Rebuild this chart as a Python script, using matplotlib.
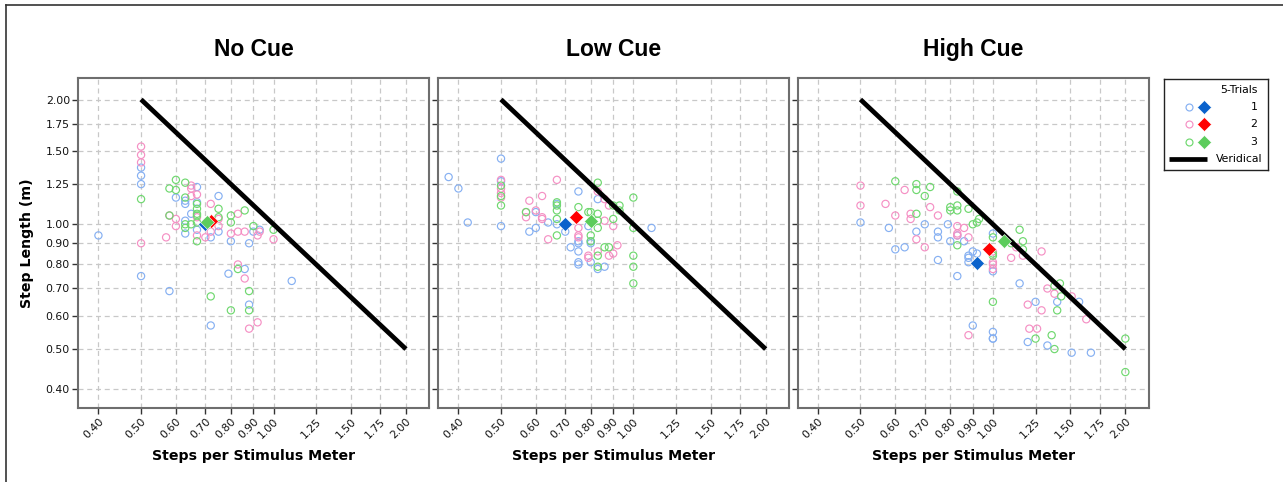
import matplotlib
matplotlib.use("Agg")
import matplotlib.pyplot as plt
from matplotlib.ticker import FixedLocator, FixedFormatter, NullLocator
from matplotlib.lines import Line2D

# ---------------- data ----------------
panel_titles = ["No Cue", "Low Cue", "High Cue"]
trial_labels = ["1", "2", "3"]
tick_values = [0.40, 0.50, 0.60, 0.70, 0.80, 0.90, 1.00, 1.25, 1.50, 1.75, 2.00]
tick_labels = ["0.40", "0.50", "0.60", "0.70", "0.80", "0.90", "1.00",
               "1.25", "1.50", "1.75", "2.00"]

# No Cue
nc_t1_x = [0.40, 0.50, 0.50, 0.50, 0.50, 0.58, 0.60, 0.63, 0.63, 0.63, 0.63, 0.65, 0.67, 0.67,
           0.67, 0.72, 0.72, 0.75, 0.75, 0.79, 0.80, 0.86, 0.88, 0.88, 0.90, 0.93, 1.10]
nc_t1_y = [0.94, 1.37, 1.31, 1.25, 0.75, 0.69, 1.16, 1.14, 1.12, 1.02, 0.95, 1.06, 1.23, 1.13,
           0.97, 0.93, 0.57, 1.17, 0.96, 0.76, 0.91, 0.78, 0.90, 0.64, 0.96, 0.97, 0.73]
nc_t2_x = [0.50, 0.50, 0.50, 0.50, 0.57, 0.58, 0.60, 0.60, 0.65, 0.65, 0.65, 0.67, 0.67, 0.67,
           0.70, 0.72, 0.72, 0.75, 0.75, 0.80, 0.83, 0.83, 0.83, 0.86, 0.86, 0.88, 0.92, 0.92,
           0.93, 1.00]
nc_t2_y = [1.54, 1.47, 1.41, 0.90, 0.93, 1.05, 1.03, 0.99, 1.24, 1.22, 1.17, 1.18, 1.04, 0.94,
           0.93, 1.12, 0.96, 1.03, 0.99, 0.95, 1.06, 0.96, 0.80, 0.96, 0.74, 0.56, 0.94, 0.58,
           0.96, 0.92]
nc_t3_x = [0.50, 0.58, 0.58, 0.60, 0.60, 0.63, 0.63, 0.63, 0.63, 0.65, 0.67, 0.67, 0.67, 0.67,
           0.67, 0.67, 0.72, 0.75, 0.75, 0.80, 0.80, 0.80, 0.83, 0.86, 0.88, 0.88, 0.90, 1.00]
nc_t3_y = [1.15, 1.22, 1.05, 1.28, 1.21, 1.26, 1.16, 1.00, 0.98, 1.00, 1.12, 1.09, 1.06, 1.05,
           1.01, 0.91, 0.67, 1.09, 1.04, 1.05, 1.01, 0.62, 0.78, 1.08, 0.69, 0.62, 0.99, 0.97]
nc_mean_x = [0.70, 0.72, 0.705]
nc_mean_y = [1.00, 1.02, 1.013]

# Low Cue
lc_t1_x = [0.38, 0.40, 0.42, 0.50, 0.50, 0.50, 0.58, 0.60, 0.60, 0.64, 0.67, 0.67, 0.70, 0.72,
           0.75, 0.75, 0.75, 0.75, 0.75, 0.75, 0.79, 0.80, 0.80, 0.80, 0.83, 0.83, 0.86, 1.10]
lc_t1_y = [1.30, 1.22, 1.01, 1.44, 1.27, 0.99, 0.96, 1.07, 0.98, 1.01, 1.12, 1.00, 0.96, 0.88,
           1.20, 0.91, 0.90, 0.86, 0.81, 0.80, 0.99, 0.90, 0.91, 0.81, 1.15, 0.78, 0.79, 0.98]
lc_t2_x = [0.50, 0.50, 0.50, 0.50, 0.57, 0.57, 0.58, 0.60, 0.62, 0.62, 0.62, 0.64, 0.67, 0.75,
           0.75, 0.75, 0.79, 0.79, 0.83, 0.83, 0.86, 0.86, 0.88, 0.88, 0.90, 0.90, 0.92]
lc_t2_y = [1.28, 1.22, 1.19, 1.16, 1.07, 1.04, 1.14, 1.08, 1.17, 1.04, 1.03, 0.92, 1.28, 0.98,
           0.94, 0.93, 0.84, 0.83, 1.20, 0.86, 1.15, 1.02, 1.11, 0.84, 0.99, 0.85, 0.89]
lc_t3_x = [0.50, 0.50, 0.50, 0.57, 0.67, 0.67, 0.67, 0.67, 0.67, 0.75, 0.79, 0.80, 0.80, 0.80,
           0.83, 0.83, 0.83, 0.83, 0.83, 0.83, 0.86, 0.88, 0.90, 0.90, 0.93, 0.93, 1.00, 1.00,
           1.00, 1.00, 1.00]
lc_t3_y = [1.24, 1.17, 1.11, 1.07, 1.13, 1.11, 1.08, 1.03, 0.94, 1.10, 1.07, 1.07, 0.94, 0.91,
           1.26, 1.06, 1.02, 0.98, 0.84, 0.79, 0.88, 0.88, 1.03, 1.11, 1.11, 1.08, 1.16, 0.98,
           0.84, 0.79, 0.72]
lc_mean_x = [0.70, 0.74, 0.80]
lc_mean_y = [1.00, 1.04, 1.02]

# High Cue
hc_t1_x = [0.50, 0.58, 0.60, 0.63, 0.67, 0.70, 0.75, 0.75, 0.75, 0.79, 0.80, 0.83, 0.86, 0.88,
           0.88, 0.88, 0.90, 0.92, 0.83, 0.90, 1.00, 1.00, 1.00, 1.00, 1.00, 1.15, 1.25, 1.40,
           1.57, 1.20, 1.33, 1.51, 1.67]
hc_t1_y = [1.01, 0.98, 0.87, 0.88, 0.96, 1.00, 0.96, 0.93, 0.82, 1.00, 0.91, 0.94, 0.91, 0.84,
           0.83, 0.81, 0.86, 0.85, 0.75, 0.57, 0.95, 0.55, 0.53, 0.53, 0.77, 0.72, 0.65, 0.65,
           0.65, 0.52, 0.51, 0.49, 0.49]
hc_t2_x = [0.50, 0.50, 0.57, 0.60, 0.63, 0.65, 0.65, 0.67, 0.70, 0.72, 0.75, 0.83, 0.83, 0.83,
           0.86, 0.88, 1.00, 1.00, 1.00, 1.00, 0.88, 1.10, 1.17, 1.29, 1.20, 1.29, 1.21, 1.26,
           1.33, 1.38, 1.51, 1.63, 1.13]
hc_t2_y = [1.24, 1.11, 1.12, 1.05, 1.21, 1.06, 1.03, 0.92, 0.88, 1.10, 1.05, 0.99, 0.95, 0.94,
           0.98, 0.93, 0.86, 0.81, 0.80, 0.78, 0.54, 0.83, 0.84, 0.86, 0.64, 0.62, 0.56, 0.56,
           0.70, 0.68, 0.67, 0.59, 0.88]
hc_t3_x = [0.60, 0.67, 0.67, 0.67, 0.70, 0.72, 0.80, 0.80, 0.83, 0.83, 0.83, 0.83, 0.88, 0.90,
           0.92, 0.93, 1.00, 1.00, 1.00, 1.00, 1.10, 1.15, 1.17, 1.17, 1.38, 1.42, 1.43, 1.40,
           1.25, 1.36, 1.38, 2.00, 2.00]
hc_t3_y = [1.27, 1.25, 1.21, 1.06, 1.17, 1.23, 1.10, 1.08, 1.11, 1.08, 1.20, 0.89, 1.09, 1.00,
           1.01, 1.03, 0.93, 0.85, 0.84, 0.65, 0.90, 0.97, 0.91, 0.87, 0.71, 0.72, 0.67, 0.62,
           0.53, 0.54, 0.50, 0.53, 0.44]
hc_mean_x = [0.92, 0.98, 1.06]
hc_mean_y = [0.805, 0.87, 0.91]

# veridical line: step length = 1 / steps per metre
veridical_x = [0.50, 2.00]
veridical_y = [2.00, 0.50]

panels = [
    ([(nc_t1_x, nc_t1_y), (nc_t2_x, nc_t2_y), (nc_t3_x, nc_t3_y)], (nc_mean_x, nc_mean_y)),
    ([(lc_t1_x, lc_t1_y), (lc_t2_x, lc_t2_y), (lc_t3_x, lc_t3_y)], (lc_mean_x, lc_mean_y)),
    ([(hc_t1_x, hc_t1_y), (hc_t2_x, hc_t2_y), (hc_t3_x, hc_t3_y)], (hc_mean_x, hc_mean_y)),
]

# ---------------- style ----------------
circle_colors = ["#86b0f2", "#f590c4", "#6fd86f"]
diamond_colors = ["#0a62cc", "#ff0000", "#5ccc5c"]
spine_color = "#6e6e6e"
grid_color = "#c8c8c8"
tick_font = "DejaVu Sans"
diamond_ms = 7.2
circle_s = 27

W, H = 1283, 482
fig = plt.figure(figsize=(W / 100, H / 100), dpi=100)
fig.patch.set_facecolor("white")


def px_rect(x0, y0, x1, y1):
    return [x0 / W, 1 - y1 / H, (x1 - x0) / W, (y1 - y0) / H]


boxes = [(78.3, 78.3, 429.3, 407.7), (438.3, 78.3, 789.0, 407.7), (797.7, 78.3, 1148.7, 407.7)]

for i, (box, (trials, means), title) in enumerate(zip(boxes, panels, panel_titles)):
    ax = fig.add_axes(px_rect(*box))
    ax.set_xscale("log")
    ax.set_yscale("log")
    ax.set_xlim(0.36, 2.26)
    ax.set_ylim(0.361, 2.25)

    ax.xaxis.set_major_locator(FixedLocator(tick_values))
    ax.xaxis.set_major_formatter(FixedFormatter(tick_labels))
    ax.yaxis.set_major_locator(FixedLocator(tick_values))
    ax.yaxis.set_major_formatter(FixedFormatter(tick_labels))
    ax.xaxis.set_minor_locator(NullLocator())
    ax.yaxis.set_minor_locator(NullLocator())

    ax.set_axisbelow(True)
    ax.grid(True, color=grid_color, linestyle=(0, (4, 3)), linewidth=0.9)
    for sp in ax.spines.values():
        sp.set_color(spine_color)
        sp.set_linewidth(1.5)

    ax.tick_params(direction="out", length=4, width=1, color="#333333",
                   labelsize=7.8, pad=2, labelcolor="#111111")
    for lab in ax.get_xticklabels():
        lab.set_rotation(45)
        lab.set_ha("right")
        lab.set_va("top")
        lab.set_rotation_mode("anchor")
        lab.set_fontfamily(tick_font)
    if i > 0:
        ax.tick_params(axis="y", labelleft=False)
    else:
        for lab in ax.get_yticklabels():
            lab.set_fontfamily(tick_font)

    for (tx, ty), c in zip(trials, circle_colors):
        ax.scatter(tx, ty, s=circle_s, facecolors="none", edgecolors=c, linewidths=0.85,
                   zorder=3)

    ax.plot(veridical_x, veridical_y, color="black", linewidth=3.4,
            solid_capstyle="butt", zorder=4)

    mx, my = means
    for j in [0, 1, 2]:
        ax.plot([mx[j]], [my[j]], marker="D", markersize=diamond_ms, color=diamond_colors[j],
                markeredgecolor="white", markeredgewidth=0.4, linestyle="none", zorder=5)

    ax.set_title(title, fontsize=16.5, fontweight="bold", family="Liberation Sans", pad=16)
    ax.set_xlabel("Steps per Stimulus Meter", fontsize=10.2, fontweight="bold",
                  family="DejaVu Sans")
    ax.xaxis.set_label_coords(0.5, -0.124)
    if i == 0:
        ax.set_ylabel("Step Length (m)", fontsize=10.2, fontweight="bold",
                      family="DejaVu Sans")
        ax.yaxis.set_label_coords(-0.125, 0.5)

# ---------------- legend ----------------
lx0, ly0, lx1, ly1 = 1164.3, 79.3, 1267.7, 170.0
lax = fig.add_axes(px_rect(lx0, ly0, lx1, ly1))
lw_, lh_ = lx1 - lx0, ly1 - ly0
lax.set_xlim(0, lw_)
lax.set_ylim(lh_, 0)
lax.set_xticks([])
lax.set_yticks([])
for sp in lax.spines.values():
    sp.set_color("#222222")
    sp.set_linewidth(1.0)

lax.text(93, 11, "5-Trials", ha="right", va="center", fontsize=7.8, family=tick_font)
row_y = [28, 45, 62.4]
for j in range(3):
    lax.plot([25], [row_y[j]], marker="o", markersize=5.0, markerfacecolor="none",
             markeredgecolor=circle_colors[j], markeredgewidth=0.85, linestyle="none")
    lax.plot([40], [row_y[j]], marker="D", markersize=diamond_ms, color=diamond_colors[j],
             markeredgecolor="white", markeredgewidth=0.4, linestyle="none")
    lax.text(93, row_y[j], trial_labels[j], ha="right", va="center", fontsize=7.8,
             family=tick_font)
lax.plot([5, 43], [80, 80], color="black", linewidth=3.4, solid_capstyle="butt")
lax.text(98, 80, "Veridical", ha="right", va="center", fontsize=7.8, family=tick_font)

# ---------------- outer frame ----------------
fx, fy = 6 / W, 1 - 5 / H
fig.add_artist(Line2D([fx, fx], [0, fy], transform=fig.transFigure, color="#333333",
                      linewidth=1.2))
fig.add_artist(Line2D([fx, 1], [fy, fy], transform=fig.transFigure, color="#333333",
                      linewidth=1.2))

fig.savefig("out.png", dpi=100, facecolor="white")
